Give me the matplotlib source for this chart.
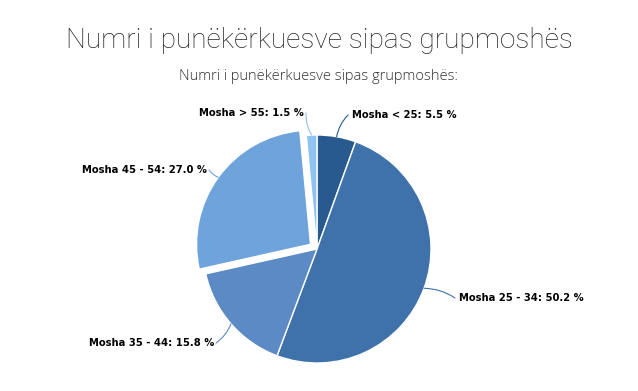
import numpy as np
import matplotlib.pyplot as plt

# age groups and their share of job seekers (%)
labels = ['Mosha < 25', 'Mosha 25 - 34', 'Mosha 35 - 44', 'Mosha 45 - 54', 'Mosha > 55']
shares = [5.5, 50.2, 15.8, 27.0, 1.5]
colors = ['#285a8f', '#3f72aa', '#5b8ac5', '#6fa3db', '#90c2f2']
explode = [0, 0, 0, 8, 0]

title = 'Numri i punëkërkuesve sipas grupmoshës'
subtitle = 'Numri i punëkërkuesve sipas grupmoshës:'

W, H = 638, 391
cx, cy, r = 317, H - 249, 114

fig = plt.figure(figsize=(W / 100, H / 100), dpi=100)
ax = fig.add_axes([0, 0, 1, 1])

wedges, _ = ax.pie(shares, colors=colors, explode=explode, startangle=90,
                   counterclock=False, center=(cx, cy), radius=r,
                   wedgeprops=dict(edgecolor='white', linewidth=1))
ax.set_xlim(0, W)
ax.set_ylim(0, H)
ax.set_aspect('equal')
ax.axis('off')

# label anchor (x, y in pixels from top-left) and alignment
label_pos = [(352, 115, 'left'), (459, 298, 'left'), (214, 343, 'right'),
             (207, 170, 'right'), (304, 113, 'right')]

for w, lab, val, col, (tx, ty, ha) in zip(wedges, labels, shares, colors, label_pos):
    ang = np.deg2rad((w.theta1 + w.theta2) / 2)
    wx, wy = w.center
    ex, ey = wx + r * np.cos(ang), wy + r * np.sin(ang)
    lx = tx + (-4 if ha == 'left' else 2)
    ax.annotate('', xy=(ex, ey), xytext=(lx, H - ty),
                arrowprops=dict(arrowstyle='-', color=col, lw=0.8,
                                connectionstyle='arc3,rad=0.15', shrinkA=0, shrinkB=0))
    ax.text(tx, H - ty, f'{lab}: {val:.1f} %', ha=ha, va='center',
            fontsize=7.2, fontweight='bold', family='DejaVu Sans', color='black')

fig.text(319 / W, 1 - 40 / H, title, ha='center', va='center', fontsize=20.2,
         family='Roboto', fontweight='light', color='#222222')
fig.text(318 / W, 1 - 77 / H, subtitle, ha='center', va='center', fontsize=10.5,
         family='Open Sans', fontweight='light', color='#333333')

fig.savefig('out.png', dpi=100)
